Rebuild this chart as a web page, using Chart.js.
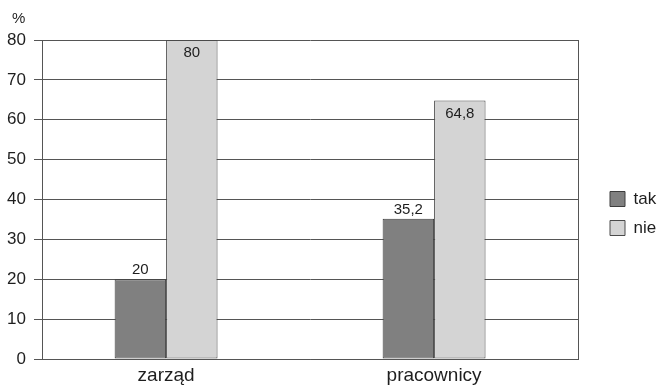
<!DOCTYPE html>
<html lang="pl">
<head>
<meta charset="utf-8">
<title>zarząd / pracownicy</title>
<script src="https://cdn.jsdelivr.net/npm/chart.js@4/dist/chart.umd.min.js"></script>
<style>
  html, body { margin: 0; padding: 0; background: #ffffff; }
  #wrap { width: 657px; height: 387px; position: relative; }
</style>
</head>
<body>
<div id="wrap"><canvas id="chart"></canvas></div>
<script>
// Categories, series and axis ticks
const categories = ['zarząd', 'pracownicy'];
const seriesNames = ['tak', 'nie'];
const takValues = [20, 35.2];
const nieValues = [80, 64.8];
const yTicks = [0, 10, 20, 30, 40, 50, 60, 70, 80];
const unitLabel = '%';

const FONT = '"Liberation Sans", Arial, Helvetica, sans-serif';
const TEXT = '#1e1e1e';
const LINE = '#555555';

const fmt = v => String(v).replace('.', ',');

// Value labels: the "tak" bars carry their value above the bar,
// the "nie" bars inside, just under the top edge.
const valueLabels = {
  id: 'valueLabels',
  afterDatasetsDraw(chart) {
    const ctx = chart.ctx;
    ctx.save();
    ctx.font = '15px ' + FONT;
    ctx.fillStyle = TEXT;
    ctx.textAlign = 'center';
    chart.data.datasets.forEach((ds, i) => {
      const meta = chart.getDatasetMeta(i);
      meta.data.forEach((bar, j) => {
        const txt = fmt(ds.data[j]);
        if (ds.labelInside) {
          ctx.textBaseline = 'middle';
          ctx.fillText(txt, bar.x, bar.y + 13);
        } else {
          ctx.textBaseline = 'alphabetic';
          ctx.fillText(txt, bar.x, bar.y - 5);
        }
      });
    });
    ctx.restore();
  }
};

// Unit caption above the value axis
const unitCaption = {
  id: 'unitCaption',
  afterDraw(chart) {
    const ctx = chart.ctx;
    const y = chart.scales.y;
    ctx.save();
    ctx.font = '15px ' + FONT;
    ctx.fillStyle = TEXT;
    ctx.textAlign = 'left';
    ctx.textBaseline = 'middle';
    ctx.fillText(unitLabel, y.left + 6, chart.chartArea.top - 21);
    ctx.restore();
  }
};

new Chart(document.getElementById('chart'), {
  type: 'bar',
  data: {
    labels: categories,
    datasets: [
      {
        label: seriesNames[0],
        data: takValues,
        backgroundColor: '#808080',
        borderColor: '#3c3c3c',
        borderWidth: 1,
        borderSkipped: false,
        labelInside: false
      },
      {
        label: seriesNames[1],
        data: nieValues,
        backgroundColor: '#d4d4d4',
        borderColor: '#4a4a4a',
        borderWidth: 1,
        borderSkipped: false,
        labelInside: true
      }
    ]
  },
  options: {
    responsive: true,
    maintainAspectRatio: false,
    animation: false,
    categoryPercentage: 0.384,
    barPercentage: 1,
    layout: { padding: { left: 6, right: 0, top: 40, bottom: 0 } },
    plugins: {
      title: { display: false },
      legend: {
        position: 'right',
        align: 'center',
        maxWidth: 59,
        labels: {
          boxWidth: 15,
          boxHeight: 15,
          padding: 12,
          color: TEXT,
          font: { family: FONT, size: 17 }
        }
      },
      tooltip: { enabled: false }
    },
    scales: {
      x: {
        type: 'category',
        offset: true,
        // the two groups sit slightly left of the evenly spaced slots
        afterBuildTicks(scale) { scale._startValue = scale.min - 0.5 + 0.037; },
        afterFit(scale) { scale.height = 28; },
        grid: { display: true, drawOnChartArea: false, drawTicks: false },
        border: { display: true, color: LINE, width: 1 },
        ticks: { color: TEXT, padding: 5, font: { family: FONT, size: 19 } }
      },
      y: {
        min: 0,
        max: 80,
        afterBuildTicks(scale) { scale.ticks = yTicks.map(v => ({ value: v })); },
        afterFit(scale) { scale.width = 36; },
        grid: { color: LINE, lineWidth: 1, tickLength: 8, drawTicks: true },
        border: { display: true, color: LINE, width: 1 },
        ticks: { color: TEXT, padding: 8, font: { family: FONT, size: 17 } }
      },
      y2: {
        position: 'right',
        min: 0,
        max: 80,
        afterFit(scale) { scale.width = 20; },
        grid: { drawOnChartArea: false, drawTicks: false },
        border: { display: true, color: LINE, width: 1 },
        ticks: { display: false }
      }
    }
  },
  plugins: [valueLabels, unitCaption]
});
</script>
</body>
</html>
